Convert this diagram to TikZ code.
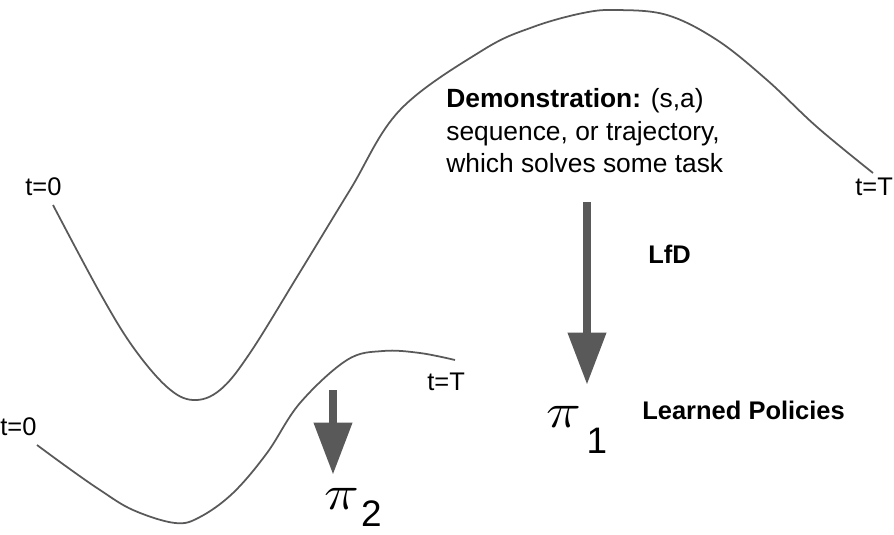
\documentclass[tikz,border=0pt]{standalone}
\usepackage{fontspec}
\setmainfont{Liberation Sans}
\usetikzlibrary{arrows.meta, positioning}
\definecolor{trajgray}{HTML}{595959}
\definecolor{arrowgray}{HTML}{595959}

\begin{document}
\begin{tikzpicture}[x=0.02cm, y=-0.02cm,
    lbl/.style={inner sep=0, anchor=base west, font=\fontsize{14.5}{17}\selectfont},
    boldlbl/.style={lbl, font=\fontsize{14.5}{17}\selectfont\bfseries},
    pilbl/.style={inner sep=0, anchor=base west, font=\fontsize{21}{21}\selectfont},
    traj/.style={draw=trajgray, line width=1pt, line join=round},
    bigarrow/.style={draw=arrowgray, fill=arrowgray, line width=4.2pt,
                     -{Triangle[length=1.04cm, width=0.74cm]}}]

    \useasboundingbox (0,0) rectangle (894,535);

    % labels
    \node[lbl] (t0a) at (25,195) {t=0};
    \node[lbl] (tTa) at (855,195) {t=T};
    \node[lbl] (t0b) at (0,435) {t=0};
    \node[lbl] (tTb) at (427,390) {t=T};
    \node[lbl, anchor=north west, align=left, font=\fontsize{15}{18.6}\selectfont]
        (demo) at (446,88)
        {\textbf{Demonstration:} (s,a)\\sequence, or trajectory,\\which solves some task};
    \node[boldlbl] (lfd) at (648,263) {LfD};
    \node[boldlbl] (learned) at (642,419) {Learned Policies};
    \node[pilbl] (pi1) at (546,427)
        {{\fontsize{25}{25}\selectfont\scalebox{1.35}[1.12]{$\pi$}}\hspace{3pt}\raisebox{-0.52cm}{1}};
    \node[pilbl] (pi2) at (324,509)
        {{\fontsize{25}{25}\selectfont\scalebox{1.35}[1.12]{$\pi$}}\hspace{1pt}\raisebox{-0.34cm}{2}};

    % trajectories
    \draw[traj] plot[smooth, tension=0.6] coordinates {(53,205) (100,293) (133,347)
        (167,387) (193,400) (220,390) (250,353) (300,272) (350,190) (400,110) (483,50)
        (533,27) (583,13) (617,10) (667,15) (717,40) (767,80) (817,127) (873,173)};
    \draw[traj] plot[smooth, tension=0.6] coordinates {(37,445) (67,467) (100,490)
        (133,510) (175,523) (200,517) (233,493) (267,453) (300,403) (347,360)
        (383,351) (420,353) (455,360)};

    % arrows
    \coordinate (a1) at (587,202);
    \coordinate (a2) at (333,390);
    \draw[bigarrow, shorten >=0.42cm] (a1) -- (pi1.north -| a1);
    \draw[bigarrow, shorten >=0.26cm] (a2) -- (pi2.north -| a2);
\end{tikzpicture}
\end{document}
